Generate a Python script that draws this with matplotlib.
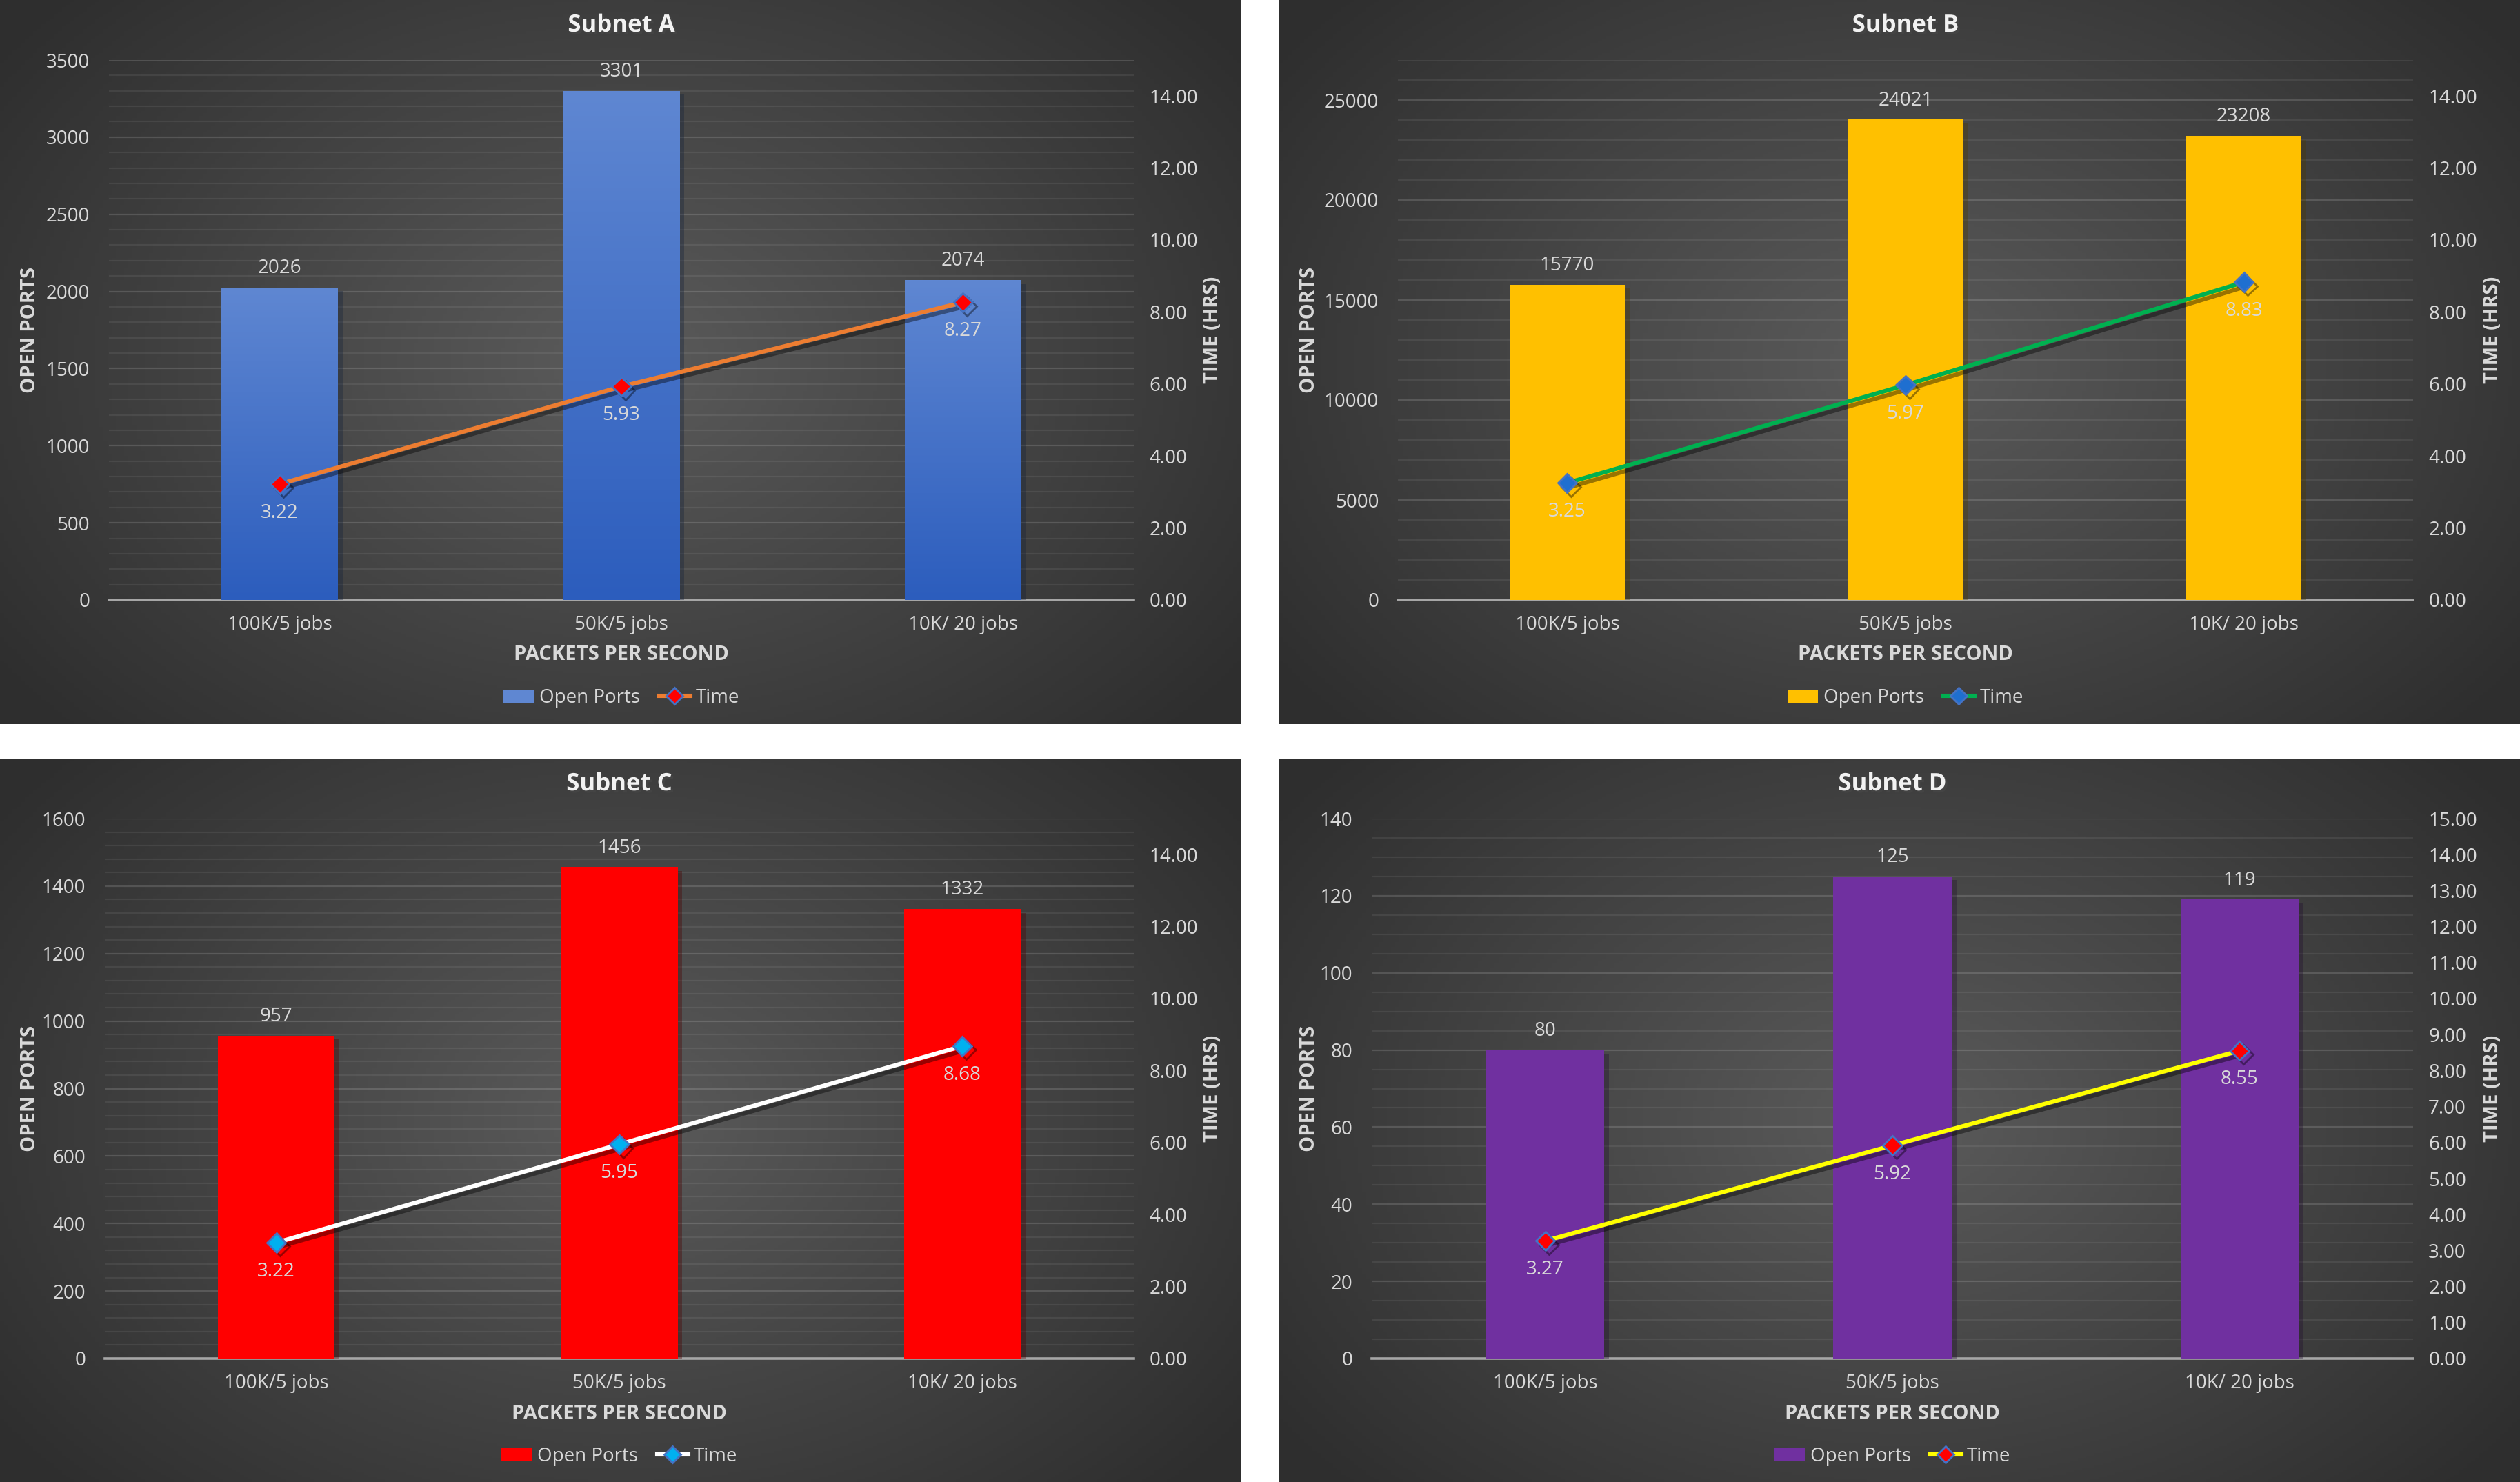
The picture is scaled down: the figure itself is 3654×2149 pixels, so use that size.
import numpy as np
import matplotlib
matplotlib.use('Agg')
import matplotlib.pyplot as plt
from matplotlib import patheffects as pe
from matplotlib.colors import LinearSegmentedColormap
from matplotlib.lines import Line2D
from matplotlib.patches import Patch
from matplotlib.ticker import FormatStrFormatter, MultipleLocator

# ---- data ----
categories = ['100K/5 jobs', '50K/5 jobs', '10K/ 20 jobs']

ports_a = [2026, 3301, 2074]
time_a = [3.22, 5.93, 8.27]

ports_b = [15770, 24021, 23208]
time_b = [3.25, 5.97, 8.83]

ports_c = [957, 1456, 1332]
time_c = [3.22, 5.95, 8.68]

ports_d = [80, 125, 119]
time_d = [3.27, 5.92, 8.55]

W, H = 3654, 2149
DPI = 200
plt.rcParams['font.family'] = ['Open Sans', 'DejaVu Sans']
TXT = '#d9d9d9'

fig = plt.figure(figsize=(W / DPI, H / DPI), dpi=DPI, facecolor='white')


def frac(x0, y0, x1, y1):
    return [x0 / W, 1 - y1 / H, (x1 - x0) / W, (y1 - y0) / H]


# radial background shading for each chart panel
yy, xx = np.mgrid[0:1:300j, 0:1:300j]
rad = np.sqrt(((xx - 0.5) / 0.62) ** 2 + ((yy - 0.5) / 0.75) ** 2)
bg_cmap = LinearSegmentedColormap.from_list('bg', ['#5b5b5b', '#2e2e2e'])


def panel(px, py, pw, ph, plot_l, title, ports, hours, ymax, ymajor, yminor,
          rticks, bar_col, line_col, mk_face, mk_edge='#4472C4', bar_grad=None):
    bg = fig.add_axes(frac(px, py, px + pw, py + ph))
    bg.imshow(np.clip(rad, 0, 1), cmap=bg_cmap, extent=[0, 1, 0, 1],
              aspect='auto', vmin=0, vmax=1)
    bg.set_axis_off()

    l, t, r, b = px + plot_l, py + 87, px + 1644, py + 870
    ax = fig.add_axes(frac(l, t, r, b))
    ax.set_facecolor('none')
    x = np.arange(len(categories))

    bars = ax.bar(x, ports, width=0.34, color=bar_col, zorder=3,
                  path_effects=[pe.SimplePatchShadow(offset=(2.5, -2), alpha=0.35),
                                pe.Normal()])
    if bar_grad is not None:
        gcm = LinearSegmentedColormap.from_list('g', bar_grad)
        for bb in bars:
            im = ax.imshow(np.linspace(0, 1, 256)[:, None], cmap=gcm, origin='lower',
                           aspect='auto', zorder=3.1,
                           extent=[bb.get_x(), bb.get_x() + bb.get_width(), 0, bb.get_height()])
            im.set_clip_path(bb)
    for xi, v in zip(x, ports):
        ax.annotate(str(v), (xi, v), xytext=(0, 5), textcoords='offset points',
                    ha='center', va='bottom', color=TXT, fontsize=10, zorder=5)

    ax.set_xlim(-0.5, len(categories) - 0.5)
    ax.set_ylim(0, ymax)
    ax.yaxis.set_major_locator(MultipleLocator(ymajor))
    ax.yaxis.set_minor_locator(MultipleLocator(yminor))
    ax.set_xticks(x)
    ax.set_xticklabels(categories)
    ax.tick_params(axis='both', which='both', length=0, labelcolor=TXT, labelsize=10)
    ax.tick_params(axis='y', pad=10)
    ax.tick_params(axis='x', pad=8)
    ax.grid(which='major', axis='y', color='white', alpha=0.14, lw=0.8)
    ax.grid(which='minor', axis='y', color='white', alpha=0.07, lw=0.8)
    ax.set_axisbelow(True)
    for s in ['left', 'right', 'top']:
        ax.spines[s].set_visible(False)
    ax.spines['bottom'].set_color('#a6a6a6')
    ax.spines['bottom'].set_linewidth(1.3)

    ax2 = ax.twinx()
    ax2.set_facecolor('none')
    ax2.plot(x, hours, color=line_col, lw=2.2, marker='D', ms=7,
             mfc=mk_face, mec=mk_edge, mew=1.0, zorder=4,
             path_effects=[pe.SimpleLineShadow(offset=(2, -2), alpha=0.4), pe.Normal()])
    for xi, v in zip(x, hours):
        ax2.annotate(f'{v:.2f}', (xi, v), xytext=(0, -10), textcoords='offset points',
                     ha='center', va='top', color=TXT, fontsize=10)
    ax2.set_ylim(0, 15)
    ax2.set_yticks(rticks)
    ax2.yaxis.set_major_formatter(FormatStrFormatter('%.2f'))
    ax2.tick_params(axis='y', length=0, labelcolor=TXT, labelsize=10, pad=8)
    for s in ax2.spines.values():
        s.set_visible(False)

    cx = (l + r) / 2
    cy = (t + b) / 2
    fig.text(cx / W, 1 - (py + 37) / H, title, ha='center', va='center',
             fontsize=12.5, fontweight='bold', color='#f2f2f2',
             path_effects=[pe.withSimplePatchShadow(offset=(1.2, -1.2), alpha=0.6)])
    fig.text(cx / W, 1 - (py + 950) / H, 'PACKETS PER SECOND', ha='center', va='center',
             fontsize=10.5, fontweight='bold', color=TXT)
    fig.text((px + 44) / W, 1 - cy / H, 'OPEN PORTS', rotation=90, ha='center',
             va='center', fontsize=10.5, fontweight='bold', color=TXT)
    fig.text((px + 1759) / W, 1 - cy / H, 'TIME (HRS)', rotation=90, ha='center',
             va='center', fontsize=10.5, fontweight='bold', color=TXT)

    handles = [Patch(facecolor=bar_col if bar_grad is None else bar_grad[1]),
               Line2D([], [], color=line_col, lw=2.2, marker='D', ms=6,
                      mfc=mk_face, mec=mk_edge)]
    fig.legend(handles, ['Open Ports', 'Time'], loc='center', ncol=2, frameon=False,
               bbox_to_anchor=(cx / W, 1 - (py + 1012) / H), fontsize=10,
               labelcolor=TXT, handlelength=1.6, handletextpad=0.3, columnspacing=1.0)
    return ax, ax2


even_ticks = np.arange(0, 15, 2)
unit_ticks = np.arange(0, 16, 1)

panel(0, 0, 1800, 1050, 158, 'Subnet A', ports_a, time_a, 3500, 500, 100, even_ticks,
      '#4472C4', '#ED7D31', '#FF0000', bar_grad=['#2c5dbd', '#5f87d2'])
panel(1855, 0, 1799, 1050, 172, 'Subnet B', ports_b, time_b, 27000, 5000, 1000, even_ticks,
      '#FFC000', '#00B050', '#1F6FD0')
panel(0, 1100, 1800, 1049, 152, 'Subnet C', ports_c, time_c, 1600, 200, 40, even_ticks,
      '#FF0000', '#FFFFFF', '#00B0F0')
panel(1855, 1100, 1799, 1049, 134, 'Subnet D', ports_d, time_d, 140, 20, 5, unit_ticks,
      '#7030A0', '#FFFF00', '#FF0000')

fig.savefig('out.png', dpi=DPI, facecolor='white')
